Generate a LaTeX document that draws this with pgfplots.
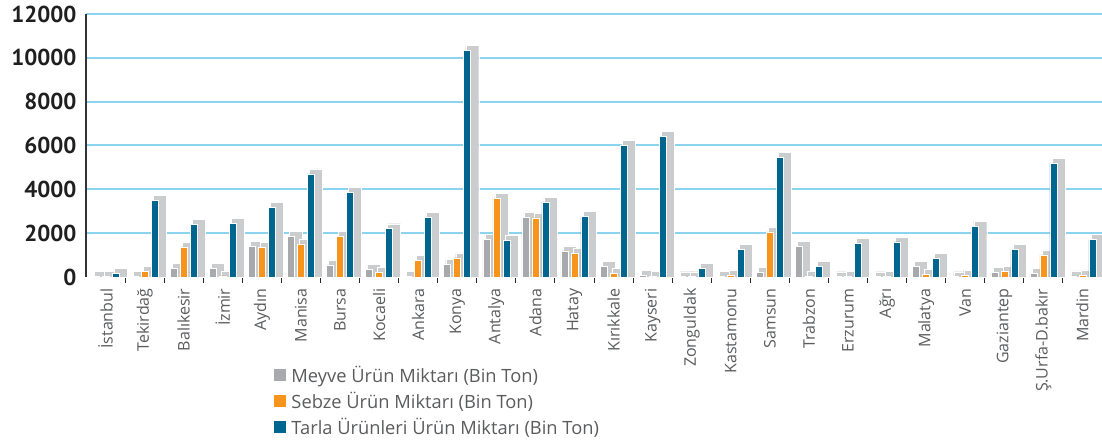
\documentclass[border=0pt]{standalone}
\usepackage{fontspec}
\setmainfont{Open Sans}
\newfontfamily\tickfont{PT Sans}
\usepackage{pgfplots}
\pgfplotsset{compat=1.18}
\usepackage{pgfplotstable}
\definecolor{cgray}{HTML}{A7A9AC}
\definecolor{corange}{HTML}{F7941D}
\definecolor{cblue}{HTML}{00668F}
\definecolor{shade}{HTML}{CBCCCE}
\definecolor{gridblue}{HTML}{8CD3F0}
\definecolor{txt}{HTML}{5A5B5D}
\pgfplotstableread{
i m s t
0 20 40 150
1 20 250 3480
2 400 1375 2410
3 400 50 2440
4 1390 1360 3190
5 1860 1510 4700
6 550 1860 3860
7 340 200 2200
8 30 750 2720
9 580 870 10330
10 1700 3590 1680
11 2720 2700 3400
12 1190 1070 2760
13 500 170 6020
14 60 20 6400
15 10 10 400
16 30 100 1270
17 200 2060 5450
18 1390 30 470
19 10 40 1530
20 10 40 1600
21 490 110 860
22 10 80 2320
23 200 240 1250
24 150 1010 5190
25 50 90 1710
}\data
\begin{document}
\begin{tikzpicture}
\pgfplotsset{sq legend/.style={legend image code/.code={\fill[##1,draw=none] (0pt,-6pt) rectangle (12pt,6pt); \path (15pt,0pt);}}}
\begin{axis}[name=ax, scale only axis, width=1016pt, height=263pt,
  xmin=-0.5, xmax=25.5, ymin=0, ymax=12000,
  axis line style={draw=none},
  ytick={0,2000,...,12000},
  scaled y ticks=false,
  xtick pos=bottom, ytick pos=left,
  major tick length=0pt,
  tick align=outside,
  minor xtick={0.5,1.5,...,24.5},
  minor tick length=6pt,
  minor tick style={draw=black!85, line width=1pt},
  /pgf/number format/assume math mode=true,
  /pgf/number format/1000 sep={},
  yticklabel style={font=\tickfont\fontsize{23}{23}\selectfont\bfseries, text=black!88},
  yticklabel shift=6pt,
  xtick={0,...,25},
  xticklabels={İstanbul,Tekirdağ,Balıkesir,İzmir,Aydın,Manisa,Bursa,Kocaeli,Ankara,Konya,Antalya,Adana,Hatay,Kırıkkale,Kayseri,Zonguldak,Kastamonu,Samsun,Trabzon,Erzurum,Ağrı,Malatya,Van,Gaziantep,Ş.Urfa-D.bakır,Mardin},
  xticklabel style={rotate=90, anchor=east, font=\fontsize{16}{16}\selectfont, text=txt},
  xticklabel shift=8pt,
  legend style={at={(0.185,-0.33)}, anchor=north west, draw=none, fill=none,
    font=\fontsize{18.3}{18.3}\selectfont, text=txt, row sep=4pt, inner sep=0pt,
    nodes={inner sep=2pt}},
  legend cell align=left,
]
\pgfplotsinvokeforeach{2000,4000,6000,8000,10000,12000}{
  \draw[gridblue, line width=2pt] (axis cs:-0.5,#1) -- (axis cs:25.5,#1);
}
\addplot[ybar, bar width=13pt, bar shift=-5pt, fill=shade, draw=white, line width=0.4pt, forget plot] table[x=i, y expr=\thisrow{m}+230]{\data};
\addplot[ybar, bar width=7pt, bar shift=-10pt, fill=cgray, draw=white, line width=0.6pt, sq legend] table[x=i, y=m]{\data};
\addplot[ybar, bar width=13pt, bar shift=5pt, fill=shade, draw=white, line width=0.4pt, forget plot] table[x=i, y expr=\thisrow{s}+230]{\data};
\addplot[ybar, bar width=7pt, bar shift=0pt, fill=corange, draw=white, line width=0.6pt, sq legend] table[x=i, y=s]{\data};
\addplot[ybar, bar width=13pt, bar shift=15pt, fill=shade, draw=white, line width=0.4pt, forget plot] table[x=i, y expr=\thisrow{t}+230]{\data};
\addplot[ybar, bar width=7pt, bar shift=10pt, fill=cblue, draw=white, line width=0.6pt, sq legend] table[x=i, y=t]{\data};
\legend{Meyve Ürün Miktarı (Bin Ton), Sebze Ürün Miktarı (Bin Ton), Tarla Ürünleri Ürün Miktarı (Bin Ton)}
\end{axis}
\draw[black!80, line width=1.3pt] (ax.south west) -- (ax.north west);
\pgfresetboundingbox
\path[use as bounding box] ([xshift=-86pt,yshift=14pt]ax.north west) rectangle ([yshift=-166pt]ax.south east);
\end{tikzpicture}
\end{document}
